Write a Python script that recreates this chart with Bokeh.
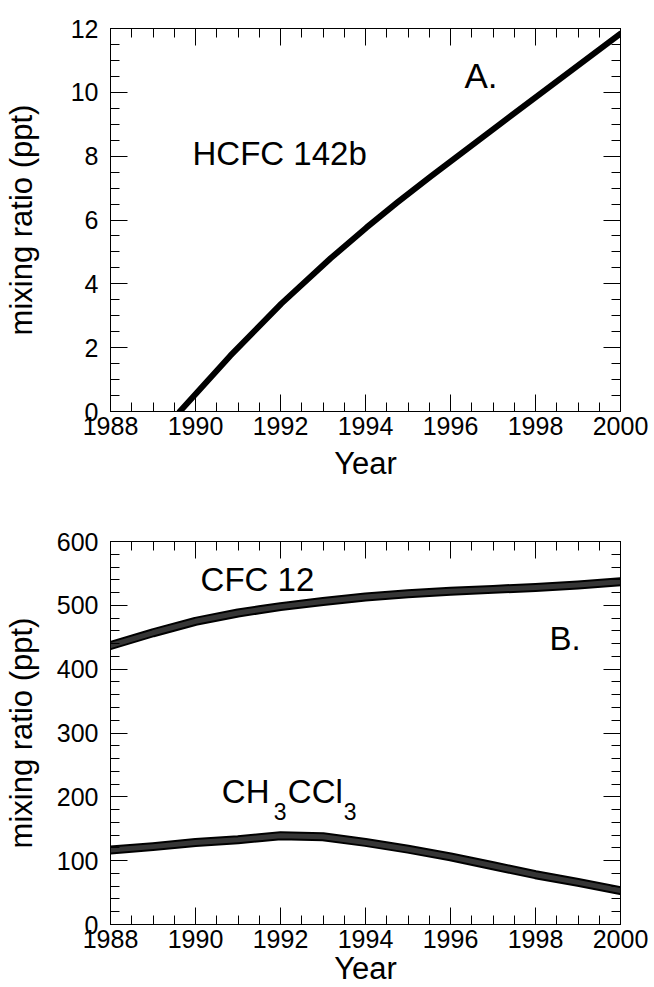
from bokeh.plotting import figure
from bokeh.models import Range1d, SingleIntervalTicker, LinearAxis
from bokeh.layouts import column
from bokeh.core.properties import value
from bokeh.embed import file_html
from bokeh.resources import INLINE

# ---- data ----
years_a = [1989.63, 1990.82, 1992.02, 1993.18, 1994.02, 1994.75, 1995.53, 1997.18, 2000.0]
hcfc142b = [0.0, 1.75, 3.38, 4.80, 5.76, 6.55, 7.36, 9.02, 11.84]

years_b = [1988, 1989, 1990, 1991, 1991.5, 1992, 1993, 1994, 1995, 1996, 1997, 1998, 1999, 2000]
cfc12 = [437, 457, 475, 488, 493, 498, 506, 513, 518, 522, 525, 528, 532, 537]
ch3ccl3 = [116.7, 122, 128.6, 132.8, 136, 139, 137.5, 128.6, 118, 106, 92, 78, 66, 53]

FONT = "Liberation Sans"
TICK_SIZE = "25px"
LABEL_SIZE = "31px"
ANN_SIZE = "33px"
SHIFT = -12  # screen-pixel correction for baseline placement


def style_axis(ax, show_labels):
    ax.axis_line_color = "black"
    ax.axis_line_width = 1
    ax.major_tick_line_color = "black"
    ax.minor_tick_line_color = "black"
    ax.major_tick_in = 17
    ax.major_tick_out = 0
    ax.minor_tick_in = 9
    ax.minor_tick_out = 0
    ax.major_label_text_font = FONT
    ax.axis_label_text_font = FONT
    ax.axis_label_text_font_style = "normal"
    ax.axis_label_text_color = "black"
    ax.axis_label_text_font_size = LABEL_SIZE
    if show_labels:
        ax.major_label_text_font_size = TICK_SIZE
        ax.major_label_text_color = "black"
    else:
        ax.major_label_text_font_size = "1px"
        ax.major_label_text_color = None
        ax.major_label_standoff = 0


def make_fig(ymax, yint, yminor, top_border, bottom_border, ylab_standoff, xlab_standoff):
    p = figure(frame_width=510, frame_height=383,
               x_range=Range1d(1988, 2000), y_range=Range1d(0, ymax),
               output_backend="svg", toolbar_location=None,
               min_border_left=110, min_border_right=34,
               min_border_top=top_border, min_border_bottom=bottom_border)
    p.grid.visible = False
    p.outline_line_color = "black"
    p.background_fill_color = "white"
    p.border_fill_color = "white"

    p.xaxis.ticker = SingleIntervalTicker(interval=2, num_minor_ticks=4)
    p.yaxis.ticker = SingleIntervalTicker(interval=yint, num_minor_ticks=yminor)
    p.xaxis.axis_label = "Year"
    p.yaxis.axis_label = "mixing ratio (ppt)"
    style_axis(p.xaxis[0], True)
    style_axis(p.yaxis[0], True)
    p.xaxis.major_label_standoff = 5
    p.xaxis.axis_label_standoff = xlab_standoff
    p.yaxis.major_label_standoff = 12
    p.yaxis.axis_label_standoff = ylab_standoff

    top = LinearAxis(ticker=SingleIntervalTicker(interval=2, num_minor_ticks=4))
    right = LinearAxis(ticker=SingleIntervalTicker(interval=yint, num_minor_ticks=yminor))
    style_axis(top, False)
    style_axis(right, False)
    p.add_layout(top, "above")
    p.add_layout(right, "right")
    return p


def ann(p, x, y, txt, size=ANN_SIZE, dx=0, dy=0):
    p.text(x=[x], y=[y], text=[txt], x_offset=dx, y_offset=dy + SHIFT,
           text_font=value(FONT), text_font_size=size, text_color="black",
           text_align="left", text_baseline="alphabetic")


# ---- panel A ----
p1 = make_fig(12, 2, 4, 28, 76, 29, 8)
p1.line(years_a, hcfc142b, line_color="black", line_width=6,
        line_cap="round", line_join="round")
ann(p1, 1989.93, 7.71, "HCFC 142b")
ann(p1, 1996.33, 10.15, "A.", size="35px")

# ---- panel B ----
p2 = make_fig(600, 100, 5, 54, 63, 15, 0)
for ys in (cfc12, ch3ccl3):
    p2.line(years_b, ys, line_color="black", line_width=9, line_cap="round", line_join="round")
    p2.line(years_b, ys, line_color="#353535", line_width=5, line_cap="round", line_join="round")

ann(p2, 1990.12, 522, "CFC 12")
ann(p2, 1998.33, 430, "B.")
# CH3CCl3 with subscripts
cx, cy = 1990.62, 189.6
ann(p2, cx, cy, "CH")
ann(p2, cx, cy, "3", size="23px", dx=52, dy=20)
ann(p2, cx, cy, "CCl", dx=66)
ann(p2, cx, cy, "3", size="23px", dx=122, dy=20)

layout = column(p1, p2)
open("out.html", "w").write(file_html(layout, INLINE))
